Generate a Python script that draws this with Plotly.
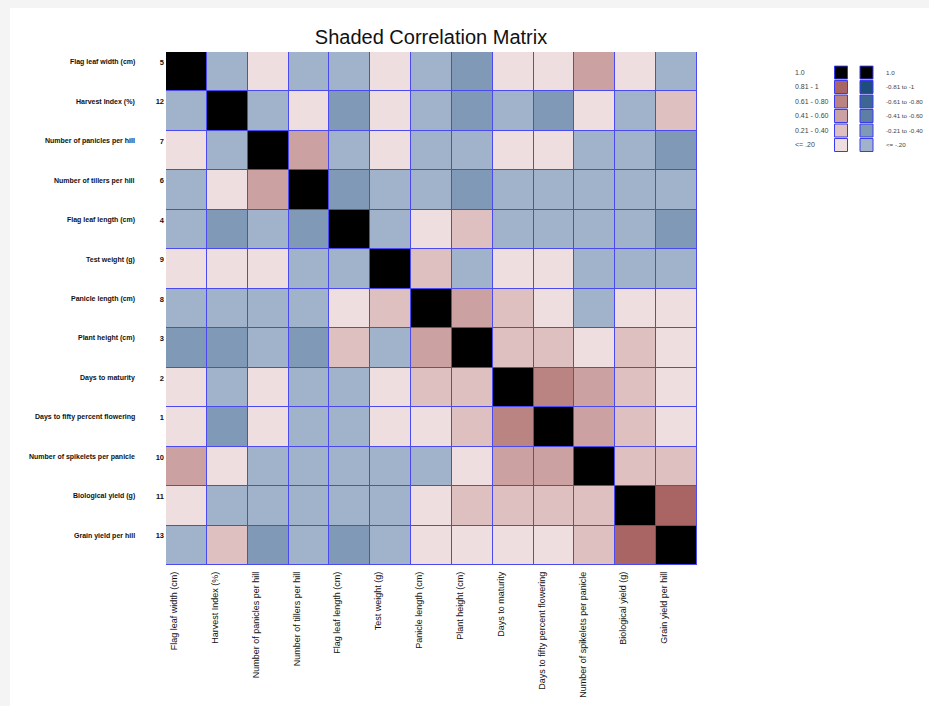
import plotly.graph_objects as go

# ---------------- data ----------------
variables = [
    "Flag leaf width (cm)", "Harvest Index (%)", "Number of panicles per hill",
    "Number of tillers per hill", "Flag leaf length (cm)", "Test weight (g)",
    "Panicle length (cm)", "Plant height (cm)", "Days to maturity",
    "Days to fifty percent flowering", "Number of spikelets per panicle",
    "Biological yield (g)", "Grain yield per hill",
]
x_labels = [
    "Flag leaf width (cm)", "Harvest Index (%)", "Number of panicles per hill",
    "Number of tillers per hill", "Flag leaf length (cm)", "Test weight (g)",
    "Panicle length (cm)", "Plant height (cm)", "Days to maturity",
    "Days to fifty percent flowering", "Number of spikelets per panicle",
    "Biological yield (g)", "Grain yield per hill",
]
var_numbers = ["5", "12", "7", "6", "4", "9", "8", "3", "2", "1", "10", "11", "13"]

corr = [
    [1.00, -0.12, 0.08, -0.10, -0.06, 0.11, -0.09, -0.27, 0.05, 0.07, 0.45, 0.13, -0.04],
    [-0.12, 1.00, -0.15, 0.06, -0.31, 0.09, -0.11, -0.33, -0.14, -0.36, 0.04, -0.18, 0.29],
    [0.08, -0.15, 1.00, 0.52, -0.08, 0.03, -0.13, -0.05, 0.12, 0.10, -0.07, -0.16, -0.26],
    [-0.10, 0.06, 0.52, 1.00, -0.30, -0.17, -0.10, -0.24, -0.06, -0.09, -0.11, -0.13, -0.02],
    [-0.06, -0.31, -0.08, -0.30, 1.00, -0.14, 0.15, 0.23, -0.05, -0.08, -0.19, -0.03, -0.28],
    [0.11, 0.09, 0.03, -0.17, -0.14, 1.00, 0.34, -0.12, 0.14, 0.06, -0.10, -0.15, -0.07],
    [-0.09, -0.11, -0.13, -0.10, 0.15, 0.34, 1.00, 0.49, 0.25, 0.17, -0.16, 0.12, 0.09],
    [-0.27, -0.33, -0.05, -0.24, 0.23, -0.12, 0.49, 1.00, 0.32, 0.37, 0.02, 0.28, 0.15],
    [0.05, -0.14, 0.12, -0.06, -0.05, 0.14, 0.25, 0.32, 1.00, 0.72, 0.55, 0.31, 0.11],
    [0.07, -0.36, 0.10, -0.09, -0.08, 0.06, 0.17, 0.37, 0.72, 1.00, 0.51, 0.27, 0.08],
    [0.45, 0.04, -0.07, -0.11, -0.19, -0.10, -0.16, 0.02, 0.55, 0.51, 1.00, 0.36, 0.22],
    [0.13, -0.18, -0.16, -0.13, -0.03, -0.15, 0.12, 0.28, 0.31, 0.27, 0.36, 1.00, 0.86],
    [-0.04, 0.29, -0.26, -0.02, -0.28, -0.07, 0.09, 0.15, 0.11, 0.08, 0.22, 0.86, 1.00],
]

# class breaks and colours
class_breaks = [-1.0, -0.8, -0.6, -0.4, -0.2, 0.0, 0.2, 0.4, 0.6, 0.8, 0.995, 1.0]
class_colors = ["#1F4E7C", "#3D6693", "#5E7FA4", "#7F99B7", "#A0B3CB",
                "#EEDEDF", "#DEC0C0", "#CCA1A1", "#B98482", "#A86564", "#000000"]

legend_pos_labels = ["1.0", "0.81 - 1", "0.61 - 0.80", "0.41 - 0.60", "0.21 - 0.40", "<= .20"]
legend_pos_values = [1.0, 0.9, 0.7, 0.5, 0.3, 0.1]
legend_neg_labels = ["1.0", "-0.81 to -1", "-0.61 to -0.80", "-0.41 to -0.60", "-0.21 to -0.40", "<= -.20"]
legend_neg_values = [1.0, -0.9, -0.7, -0.5, -0.3, -0.1]

# ---------------- styling ----------------
W, H = 929, 706
ML, MR, MT, MB = 166, 0, 52, 141
PW = W - ML - MR
PH = H - MT - MB
main_right_px = 697
grid_blue = "#4A4AF0"
FONT = "Liberation Sans, Arial, sans-serif"

colorscale = []
for i, c in enumerate(class_colors):
    lo = (class_breaks[i] + 1) / 2
    hi = (class_breaks[i + 1] + 1) / 2
    colorscale.append([lo, c])
    colorscale.append([hi, c])


def class_color(v):
    for i, c in enumerate(class_colors):
        if v <= class_breaks[i + 1]:
            return c
    return class_colors[-1]


n = len(variables)
idx = list(range(n))

fig = go.Figure()

# blue layer that shows through the gaps as grid lines
fig.add_trace(go.Heatmap(
    x=idx, y=idx, z=[[0] * n for _ in range(n)],
    colorscale=[[0, grid_blue], [1, grid_blue]], showscale=False,
    hoverinfo="skip",
))
fig.add_trace(go.Heatmap(
    x=idx, y=idx, z=corr, zmin=-1, zmax=1,
    colorscale=colorscale, showscale=False, xgap=1, ygap=1,
    text=[[v for v in row] for row in corr],
    hovertemplate="%{text}<extra></extra>",
))

# legend swatches on their own small axes
leg_colors = [class_color(v) for v in legend_pos_values] + [class_color(v) for v in legend_neg_values]
fig.add_trace(go.Scatter(
    x=[0] * len(legend_pos_values) + [1] * len(legend_neg_values),
    y=list(range(len(legend_pos_values))) + list(range(len(legend_neg_values))),
    mode="markers", xaxis="x2", yaxis="y2",
    marker=dict(symbol="square", size=13, color=leg_colors,
                line=dict(color="#3A3AF0", width=1)),
    hoverinfo="skip", showlegend=False,
))

annotations = []
for i, name in enumerate(variables):
    annotations.append(dict(
        x=(137 - ML) / PW, xref="paper", y=i - 0.24, yref="y",
        text=name, showarrow=False, xanchor="right", yanchor="middle",
        font=dict(family=FONT, size=7, color="#111", weight="bold"),
    ))
for i, lab in enumerate(legend_pos_labels):
    annotations.append(dict(
        x=(793 - ML) / PW, xref="paper", y=i, yref="y2", text=lab, showarrow=False,
        xanchor="left", yanchor="middle",
        font=dict(family=FONT, size=7, color="#444"),
    ))
for i, lab in enumerate(legend_neg_labels):
    annotations.append(dict(
        x=(884 - ML) / PW, xref="paper", y=i, yref="y2", text=lab, showarrow=False,
        xanchor="left", yanchor="middle",
        font=dict(family=FONT, size=6.2, color="#444"),
    ))

# legend axes placement
lx0, lx1 = 828.25, 879.25
ly0, ly1 = 65.25, 152.25
hidden = dict(showticklabels=False, showgrid=False, zeroline=False, showline=False, ticks="")

fig.update_layout(
    width=W, height=H, autosize=False,
    margin=dict(l=ML, r=MR, t=MT, b=MB),
    paper_bgcolor="#F4F4F4", plot_bgcolor="rgba(0,0,0,0)",
    title=dict(text="Shaded Correlation Matrix", x=431 / W, xref="container",
               xanchor="center", y=1 - 36.5 / H, yref="container", yanchor="middle",
               font=dict(family=FONT, size=20, color="#111")),
    xaxis=dict(domain=[0, (main_right_px - ML) / PW], range=[-0.5, n - 0.5],
               tickvals=[i - 0.3 for i in idx], ticktext=x_labels, tickangle=-90,
               ticks="", showgrid=False, zeroline=False, showline=False,
               tickfont=dict(family=FONT, size=9, color="#111"),
               ticklabelstandoff=4),
    yaxis=dict(domain=[0, 1], range=[n - 0.5, -0.5],
               tickvals=[i - 0.24 for i in idx], ticktext=var_numbers,
               ticks="", showgrid=False, zeroline=False, showline=False,
               tickfont=dict(family=FONT, size=7.5, color="#111", weight="bold"),
               ticklabelstandoff=1),
    xaxis2=dict(domain=[(lx0 - ML) / PW, (lx1 - ML) / PW], range=[-0.5, 1.5],
                anchor="y2", **hidden),
    yaxis2=dict(domain=[(MT + PH - ly1) / PH, (MT + PH - ly0) / PH], range=[5.5, -0.5],
                anchor="x2", **hidden),
    annotations=annotations,
    shapes=[dict(type="rect", xref="paper", yref="paper", layer="below",
                 x0=(10 - ML) / PW, x1=1.0, y0=(MT + PH - H) / PH, y1=(MT + PH - 8) / PH,
                 fillcolor="white", line=dict(width=0))],
    showlegend=False,
)

fig.write_html("out.html", config={"displayModeBar": False},
               post_script="document.body.style.margin='0';")
